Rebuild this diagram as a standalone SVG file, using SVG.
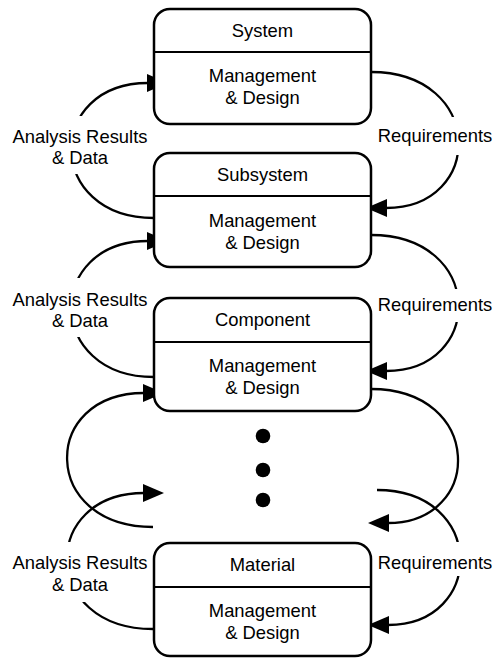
<svg xmlns="http://www.w3.org/2000/svg" width="493" height="658" viewBox="0 0 493 658">
  <style>
    .box { fill: #ffffff; stroke: #000000; stroke-width: 2.5; }
    .div { stroke: #000000; stroke-width: 2.2; }
    .t { font-family: "Liberation Sans", Arial, Helvetica, sans-serif; font-size: 18.4px; fill: #000000; text-anchor: middle; }
    .flow { fill: none; stroke: #000000; stroke-width: 2.3; marker-end: url(#head); }
    .bg { fill: #ffffff; stroke: none; }
  </style>
  <defs>
    <marker id="head" markerUnits="userSpaceOnUse" markerWidth="21" markerHeight="18" refX="1" refY="9" orient="auto">
      <path d="M0,0 L21,9 L0,18 Z" fill="#000000"/>
    </marker>
  </defs>

  <rect width="493" height="658" fill="#ffffff"/>

  <!-- connectors -->
  <g id="connectors">
    <path class="flow" d="M154,218 C45,218 45,83 148,83"/>
    <path class="flow" d="M371,72 C485,72 485,208 386,208"/>
    <path class="flow" d="M154,377 C45,377 45,241 148,241"/>
    <path class="flow" d="M371,235 C485,235 485,371 386,371"/>
    <path class="flow" d="M153,527 C40,527 40,393 144,393"/>
    <path class="flow" d="M371,389 C484,389 484,523 388,523"/>
    <path class="flow" d="M153,629 C40,629 40,493 144,493"/>
    <path class="flow" d="M377,490 C486,490 486,625 388,625"/>
  </g>

  <!-- labels on the connectors -->
  <g id="label-up-1">
    <rect class="bg" x="6" y="116" width="144" height="58"/>
    <text class="t" x="80" y="143">Analysis Results</text>
    <text class="t" x="80" y="164">&amp; Data</text>
  </g>
  <g id="label-down-1">
    <rect class="bg" x="376" y="117" width="117" height="38"/>
    <text class="t" x="435" y="142">Requirements</text>
  </g>
  <g id="label-up-2">
    <rect class="bg" x="6" y="278" width="144" height="59"/>
    <text class="t" x="80" y="306">Analysis Results</text>
    <text class="t" x="80" y="327">&amp; Data</text>
  </g>
  <g id="label-down-2">
    <rect class="bg" x="376" y="289" width="117" height="33"/>
    <text class="t" x="435" y="311">Requirements</text>
  </g>
  <g id="label-up-4">
    <rect class="bg" x="6" y="542" width="144" height="60"/>
    <text class="t" x="80" y="569">Analysis Results</text>
    <text class="t" x="80" y="591">&amp; Data</text>
  </g>
  <g id="label-down-4">
    <rect class="bg" x="376" y="542" width="117" height="34"/>
    <text class="t" x="435" y="569">Requirements</text>
  </g>

  <!-- levels -->
  <g id="system">
    <rect class="box" x="154" y="9" width="217" height="115" rx="16"/>
    <line class="div" x1="154" y1="52" x2="371" y2="52"/>
    <text class="t" x="262.5" y="37">System</text>
    <text class="t" x="262.5" y="82">Management</text>
    <text class="t" x="262.5" y="104">&amp; Design</text>
  </g>
  <g id="subsystem">
    <rect class="box" x="154" y="153" width="217" height="114" rx="16"/>
    <line class="div" x1="154" y1="196" x2="371" y2="196"/>
    <text class="t" x="262.5" y="181">Subsystem</text>
    <text class="t" x="262.5" y="227">Management</text>
    <text class="t" x="262.5" y="249">&amp; Design</text>
  </g>
  <g id="component">
    <rect class="box" x="154" y="298" width="217" height="113" rx="16"/>
    <line class="div" x1="154" y1="342" x2="371" y2="342"/>
    <text class="t" x="262.5" y="326">Component</text>
    <text class="t" x="262.5" y="372">Management</text>
    <text class="t" x="262.5" y="394">&amp; Design</text>
  </g>
  <g id="ellipsis">
    <circle cx="263" cy="436" r="7.3" fill="#000000"/>
    <circle cx="263" cy="470" r="7.3" fill="#000000"/>
    <circle cx="263" cy="500" r="7.3" fill="#000000"/>
  </g>
  <g id="material">
    <rect class="box" x="154" y="543" width="217" height="113" rx="16"/>
    <line class="div" x1="154" y1="587" x2="371" y2="587"/>
    <text class="t" x="262.5" y="571">Material</text>
    <text class="t" x="262.5" y="617">Management</text>
    <text class="t" x="262.5" y="639">&amp; Design</text>
  </g>
</svg>
